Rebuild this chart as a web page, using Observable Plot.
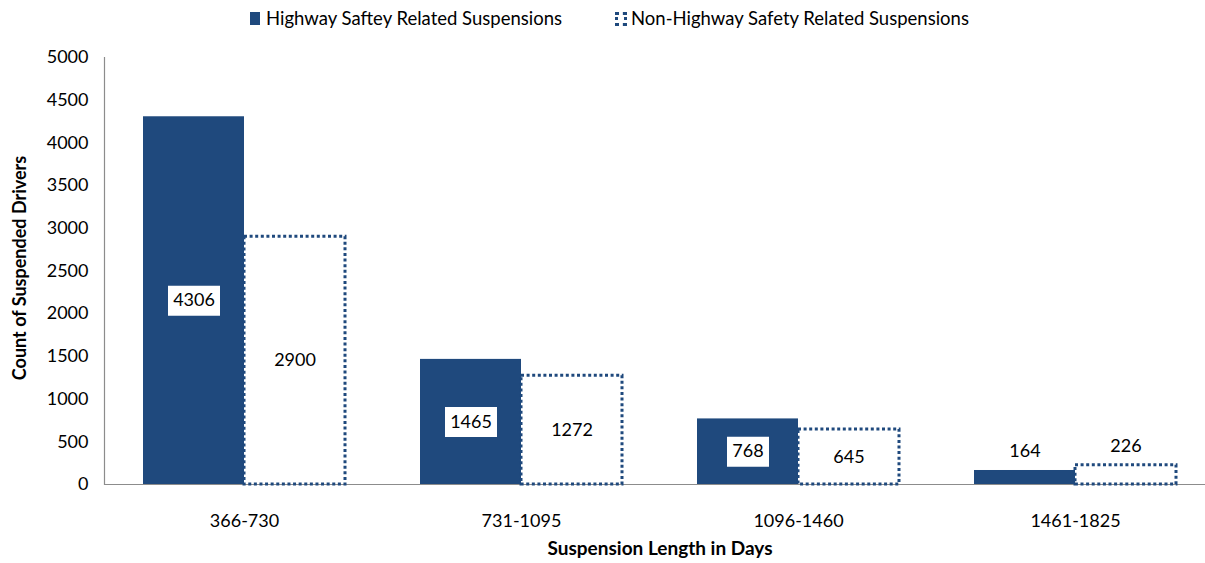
<!DOCTYPE html>
<html>
<head>
<meta charset="utf-8">
<script src="https://cdn.jsdelivr.net/npm/d3@7"></script>
<script src="https://cdn.jsdelivr.net/npm/@observablehq/plot@0.6"></script>
<style>
  html, body { margin: 0; padding: 0; background: #fff; }
  #wrap { position: relative; width: 1205px; height: 563px; font-family: Lato, "Open Sans", sans-serif; color: #000; }
  #chart { position: absolute; left: 0; top: 0; }
  .leg { position: absolute; font-size: 18.5px; line-height: 20px; white-space: nowrap; }
  .sw-solid { position: absolute; width: 10px; height: 13px; background: #1F497D; }
  .sw-dot { position: absolute; box-sizing: border-box; width: 12px; height: 14px; border: 3px dotted #1F497D; }
</style>
</head>
<body>
<div id="wrap">
  <div id="chart"></div>
  <div class="sw-solid" style="left:250px; top:12px;"></div>
  <div class="leg" style="left:266px; top:8px;">Highway Saftey Related Suspensions</div>
  <div class="sw-dot" style="left:615px; top:12px;"></div>
  <div class="leg" style="left:631px; top:8px;">Non-Highway Safety Related Suspensions</div>
</div>
<script>
const categories = ["366-730", "731-1095", "1096-1460", "1461-1825"];
const highway = [4306, 1465, 768, 164];
const nonHighway = [2900, 1272, 645, 226];
const yTicks = [0, 500, 1000, 1500, 2000, 2500, 3000, 3500, 4000, 4500, 5000];
const yTitle = "Count of Suspended Drivers";
const xTitle = "Suspension Length in Days";

const blue = "#1F497D";
const hw = categories.map((c, i) => ({category: c, value: highway[i]}));
const nh = categories.map((c, i) => ({category: c, value: nonHighway[i]}));

const inside = d => d.value >= 300;
const boxSymbol = (w, h) => ({draw(ctx) { ctx.rect(-w / 2, -h / 2, w, h); }});

const half = 101;
const off = 50.5;

const chart = Plot.plot({
  width: 1205,
  height: 563,
  marginTop: 57,
  marginBottom: 79,
  marginLeft: 104,
  marginRight: 0,
  style: {fontFamily: "Lato, 'Open Sans', sans-serif", fontSize: "18px", color: "#000", background: "#fff"},
  x: {domain: categories, range: [104, 1214], paddingInner: 0.272, paddingOuter: 0.136, label: null},
  y: {domain: [0, 5000], label: null},
  marks: [
    Plot.ruleY([0], {stroke: "#8c8c8c", strokeWidth: 1.2}),
    Plot.frame({anchor: "left", stroke: "#8c8c8c", strokeWidth: 1.2}),
    Plot.barY(hw, {x: "category", y: "value", fill: blue, insetRight: half}),
    Plot.barY(nh, {x: "category", y: "value", fill: "white", stroke: blue, strokeWidth: 3, strokeDasharray: "3,2.6", insetLeft: half}),
    Plot.dot(hw.filter(d => inside(d) && String(d.value).length >= 4), {x: "category", y: d => d.value / 2, dx: -off, symbol: boxSymbol(52, 30), fill: "white", stroke: "none"}),
    Plot.dot(hw.filter(d => inside(d) && String(d.value).length < 4), {x: "category", y: d => d.value / 2, dx: -off, symbol: boxSymbol(42, 30), fill: "white", stroke: "none"}),
    Plot.text(hw.filter(inside), {x: "category", y: d => d.value / 2, dx: -off, text: d => String(d.value), fill: "#000", fontSize: 18}),
    Plot.text(hw.filter(d => !inside(d)), {x: "category", y: "value", dx: -off, dy: -19, text: d => String(d.value), fill: "#000", fontSize: 18}),
    Plot.text(nh.filter(inside), {x: "category", y: d => d.value / 2, dx: off, text: d => String(d.value), fill: "#000", fontSize: 18}),
    Plot.text(nh.filter(d => !inside(d)), {x: "category", y: "value", dx: off, dy: -19, text: d => String(d.value), fill: "#000", fontSize: 18}),
    Plot.axisY({ticks: yTicks, tickFormat: d => String(d), tickSize: 0, tickPadding: 16, label: null, fontSize: 18, fill: "#000"}),
    Plot.axisX({tickSize: 0, tickPadding: 30, label: null, fontSize: 18, fill: "#000"}),
    Plot.text([yTitle], {frameAnchor: "left", textAnchor: "middle", rotate: -90, dx: -84, dy: -3, fontWeight: "bold", fontSize: 18, fill: "#000"}),
    Plot.text([xTitle], {frameAnchor: "bottom", dy: 70, dx: 5, fontWeight: "bold", fontSize: 19, fill: "#000"})
  ]
});
document.getElementById("chart").appendChild(chart);
</script>
</body>
</html>
